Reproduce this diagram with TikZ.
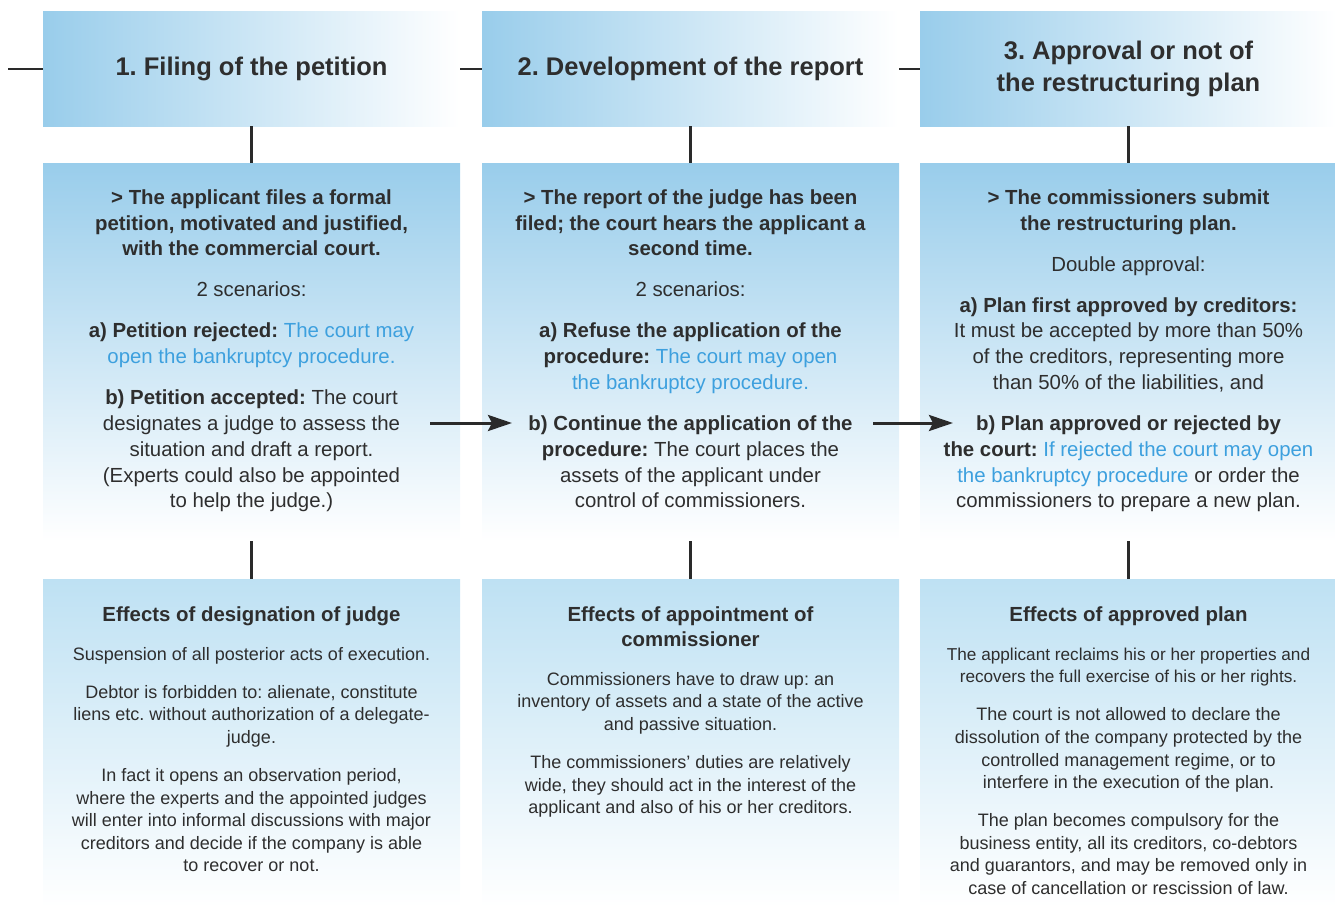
\documentclass[tikz,border=0pt]{standalone}
\usepackage{fontspec}
\setmainfont{Liberation Sans}
\usetikzlibrary{arrows.meta}
\definecolor{boxblue}{HTML}{99CDEB}
\definecolor{boxlight}{HTML}{BEE1F3}
\definecolor{lblue}{HTML}{3DA0DE}
\definecolor{textc}{HTML}{2E2E2E}
\definecolor{linec}{HTML}{2A2A2A}
\newcommand\mystrut[1]{\rule{0pt}{#1}}
\frenchspacing
\tikzset{
  hdr/.style={minimum width=417pt, minimum height=114pt, inner sep=0pt, left color=boxblue, right color=white, draw=none, text=textc, align=center, font={\fontsize{25.5}{32}\selectfont\bfseries}},
  midbox/.style={minimum width=417pt, minimum height=378pt, inner sep=0pt, top color=boxblue, bottom color=white, draw=none},
  lowbox/.style={minimum width=417pt, minimum height=328pt, inner sep=0pt, top color=boxlight, bottom color=white, draw=none},
  midtxt/.style={anchor=north, inner sep=0pt, align=center, text=textc, font={\fontsize{20.4}{25.8}\selectfont}},
  lowtitle/.style={anchor=north, inner sep=0pt, align=center, text=textc, font={\fontsize{20.4}{25}\selectfont\bfseries}},
  lowtxt/.style={anchor=north, inner sep=0pt, align=center, text=textc, font={\fontsize{18}{22.6}\selectfont}},
  conn/.style={draw=linec, line width=2.3pt},
  arr/.style={draw=linec, line width=3pt, -{Stealth[length=24pt, width=16pt, inset=4pt]}}
}
\begin{document}
\begin{tikzpicture}[x=1pt, y=-1pt]
\useasboundingbox (0,0) rectangle (1335,907);
% boxes
\node[hdr] (h1) at (251.5,69) {1. Filing of the petition};
\node[hdr] (h2) at (690.5,69) {2. Development of the report};
\node[hdr] (h3) at (1128.5,69) {3. Approval or not of\\the restructuring plan};
\node[midbox] (m1) at (251.5,352) {};
\node[midbox] (m2) at (690.5,352) {};
\node[midbox] (m3) at (1128.5,352) {};
\node[lowbox] (b1) at (251.5,743) {};
\node[lowbox] (b2) at (690.5,743) {};
\node[lowbox] (b3) at (1128.5,743) {};
% connectors
\coordinate (l0) at (8,69);
\draw[conn] (l0) -- (h1.west);
\draw[conn] (h1.east) -- (h2.west);
\draw[conn] (h2.east) -- (h3.west);
\draw[conn] (h1.south) -- (m1.north);
\draw[conn] (h2.south) -- (m2.north);
\draw[conn] (h3.south) -- (m3.north);
\draw[conn] (m1.south) -- (b1.north);
\draw[conn] (m2.south) -- (b2.north);
\draw[conn] (m3.south) -- (b3.north);
\coordinate (a1s) at (430,423);
\coordinate (a1e) at (512,423);
\coordinate (a2s) at (873,423);
\coordinate (a2e) at (953,423);
\draw[arr] (a1s) -- (a1e);
\draw[arr] (a2s) -- (a2e);
% middle texts
\node[midtxt] (t1) at (251.5,187) {\mystrut{17pt}\textbf{> The applicant files a formal}\\
\textbf{petition, motivated and justified,}\\
\textbf{with the commercial court.}\\[15.2pt]
2 scenarios:\\[15.2pt]
\textbf{a) Petition rejected:} \textcolor{lblue}{The court may}\\
\textcolor{lblue}{open the bankruptcy procedure.}\\[15.2pt]
\textbf{b) Petition accepted:} The court\\
designates a judge to assess the\\
situation and draft a report.\\
(Experts could also be appointed\\
to help the judge.)};
\node[midtxt] (t2) at (690.5,187) {\mystrut{17pt}\textbf{> The report of the judge has been}\\
\textbf{filed; the court hears the applicant a}\\
\textbf{second time.}\\[15.2pt]
2 scenarios:\\[15.2pt]
\textbf{a) Refuse the application of the}\\
\textbf{procedure:} \textcolor{lblue}{The court may open}\\
\textcolor{lblue}{the bankruptcy procedure.}\\[15.2pt]
\textbf{b) Continue the application of the}\\
\textbf{procedure:} The court places the\\
assets of the applicant under\\
control of commissioners.};
\node[midtxt] (t3) at (1128.5,187) {\mystrut{17pt}\textbf{> The commissioners submit}\\
\textbf{the restructuring plan.}\\[15.2pt]
Double approval:\\[15.2pt]
\textbf{a) Plan first approved by creditors:}\\
It must be accepted by more than 50\%\\
of the creditors, representing more\\
than 50\% of the liabilities, and\\[15.2pt]
\textbf{b) Plan approved or rejected by}\\
\textbf{the court:} \textcolor{lblue}{If rejected the court may open}\\
\textcolor{lblue}{the bankruptcy procedure} or order the\\
commissioners to prepare a new plan.};
% lower titles
\node[lowtitle] (e1) at (251.5,604) {\mystrut{17pt}Effects of designation of judge};
\node[lowtitle] (e2) at (690.5,604) {\mystrut{17pt}Effects of appointment of\\commissioner};
\node[lowtitle] (e3) at (1128.5,604) {\mystrut{17pt}Effects of approved plan};
% lower texts
\node[lowtxt] (s1) at (251.5,645) {\mystrut{15pt}Suspension of all posterior acts of execution.\\[15.4pt]
Debtor is forbidden to: alienate, constitute\\
liens etc. without authorization of a delegate-\\
judge.\\[15.4pt]
In fact it opens an observation period,\\
where the experts and the appointed judges\\
will enter into informal discussions with major\\
creditors and decide if the company is able\\
to recover or not.};
\node[lowtxt] (s2) at (690.5,670) {\mystrut{15pt}Commissioners have to draw up: an\\
inventory of assets and a state of the active\\
and passive situation.\\[15.4pt]
The commissioners’ duties are relatively\\
wide, they should act in the interest of the\\
applicant and also of his or her creditors.};
\node[lowtxt] (s3) at (1128.5,645) {\mystrut{15pt}{\fontsize{17.2}{22.6}\selectfont The applicant reclaims his or her properties and}\\
{\fontsize{17.2}{22.6}\selectfont recovers the full exercise of his or her rights.}\\[15.4pt]
The court is not allowed to declare the\\
dissolution of the company protected by the\\
controlled management regime, or to\\
interfere in the execution of the plan.\\[15.4pt]
The plan becomes compulsory for the\\
business entity, all its creditors, co-debtors\\
and guarantors, and may be removed only in\\
case of cancellation or rescission of law.};
\end{tikzpicture}
\end{document}
